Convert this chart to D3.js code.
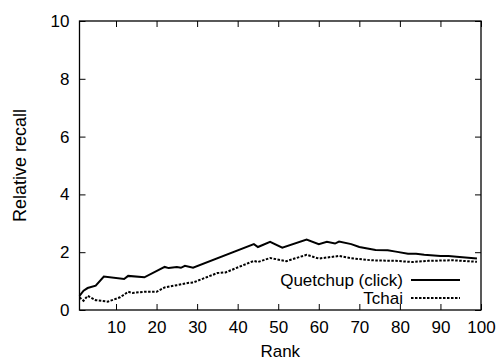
<!DOCTYPE html>
<html>
<head>
<meta charset="utf-8">
<script src="https://cdn.jsdelivr.net/npm/d3@7"></script>
<style>
  body { margin: 0; background: #fff; }
  text { font-family: "Liberation Sans", Arial, sans-serif; font-size: 17px; fill: #000; }
</style>
</head>
<body>
<div id="chart"></div>
<script>
// Quetchup (click)
const qRank = [1, 2, 3, 5, 7, 12, 13, 17, 22, 23, 25, 26, 27, 29, 44, 45, 48, 51, 57, 60, 62, 64, 65, 68, 70, 74, 77, 79, 82, 84, 86, 90, 92, 94, 99]
const qRecall = [0.49, 0.67, 0.76, 0.84, 1.16, 1.07, 1.18, 1.13, 1.49, 1.45, 1.49, 1.46, 1.53, 1.46, 2.28, 2.18, 2.36, 2.16, 2.44, 2.28, 2.36, 2.30, 2.37, 2.28, 2.18, 2.08, 2.07, 2.02, 1.95, 1.95, 1.91, 1.87, 1.87, 1.84, 1.78]

// Tchai
const tRank = [1, 2, 3, 5, 8, 11, 13, 14, 17, 20, 22, 25, 28, 29, 35, 37, 44, 45, 48, 52, 57, 60, 65, 68, 73, 79, 83, 87, 93, 99]
const tRecall = [0.44, 0.32, 0.49, 0.34, 0.29, 0.44, 0.63, 0.59, 0.63, 0.63, 0.78, 0.86, 0.94, 0.95, 1.28, 1.30, 1.70, 1.66, 1.80, 1.69, 1.91, 1.78, 1.87, 1.79, 1.72, 1.70, 1.66, 1.70, 1.72, 1.67]

const xTicks = [10, 20, 30, 40, 50, 60, 70, 80, 90, 100]
const yTicks = [0, 2, 4, 6, 8, 10]
const seriesNames = ['Quetchup (click)', 'Tchai']

const width = 501, height = 361
const m = {left: 79.5, right: 20, top: 21, bottom: 51}

const x = d3.scaleLinear().domain([1, 100]).range([m.left, width - m.right])
const y = d3.scaleLinear().domain([0, 10]).range([height - m.bottom, m.top])

const svg = d3.select('#chart').append('svg')
    .attr('width', width)
    .attr('height', height)

const tickLen = 6

// axes with inward ticks, mirrored on top / right
svg.append('g')
    .attr('transform', 'translate(0,' + y(0) + ')')
    .call(d3.axisBottom(x).tickValues(xTicks).tickSize(-tickLen).tickPadding(11))
svg.append('g')
    .attr('transform', 'translate(0,' + y(10) + ')')
    .call(d3.axisTop(x).tickValues(xTicks).tickSize(-tickLen).tickFormat(''))
svg.append('g')
    .attr('transform', 'translate(' + x(1) + ',0)')
    .call(d3.axisLeft(y).tickValues(yTicks).tickSize(-tickLen).tickPadding(10))
svg.append('g')
    .attr('transform', 'translate(' + x(100) + ',0)')
    .call(d3.axisRight(y).tickValues(yTicks).tickSize(-tickLen).tickFormat(''))

svg.selectAll('.domain').remove()
svg.selectAll('.tick line').attr('stroke', '#000')
svg.selectAll('.tick text')
    .style('font-family', '"Liberation Sans", Arial, sans-serif')
    .style('font-size', '17px')

// frame
svg.append('rect')
    .attr('x', x(1)).attr('y', y(10))
    .attr('width', x(100) - x(1)).attr('height', y(0) - y(10))
    .attr('fill', 'none').attr('stroke', '#000').attr('stroke-width', 1.3)

const line = d3.line().x(d => x(d[0])).y(d => y(d[1]))

svg.append('path')
    .datum(d3.zip(qRank, qRecall))
    .attr('d', line)
    .attr('fill', 'none').attr('stroke', '#000').attr('stroke-width', 2)

svg.append('path')
    .datum(d3.zip(tRank, tRecall))
    .attr('d', line)
    .attr('fill', 'none').attr('stroke', '#000').attr('stroke-width', 2)
    .attr('stroke-dasharray', '2.5,1.5')

// legend
const legend = svg.append('g')
seriesNames.forEach((name, i) => {
    const ly = 280 + i * 18
    legend.append('text')
        .attr('x', 403).attr('y', ly)
        .attr('dy', '0.35em')
        .attr('text-anchor', 'end')
        .text(name)
    legend.append('line')
        .attr('x1', 411).attr('x2', 460)
        .attr('y1', ly).attr('y2', ly)
        .attr('stroke', '#000').attr('stroke-width', 2)
        .attr('stroke-dasharray', i === 1 ? '2.5,1.5' : null)
})

// axis labels
svg.append('text')
    .attr('x', (x(1) + x(100)) / 2).attr('y', 351)
    .attr('dy', '0.35em')
    .attr('text-anchor', 'middle')
    .text('Rank')

svg.append('text')
    .attr('transform', 'translate(20,' + (y(0) + y(10)) / 2 + ') rotate(-90)')
    .attr('dy', '0.35em')
    .attr('text-anchor', 'middle')
    .style('font-size', '18px')
    .text('Relative recall')
</script>
</body>
</html>
